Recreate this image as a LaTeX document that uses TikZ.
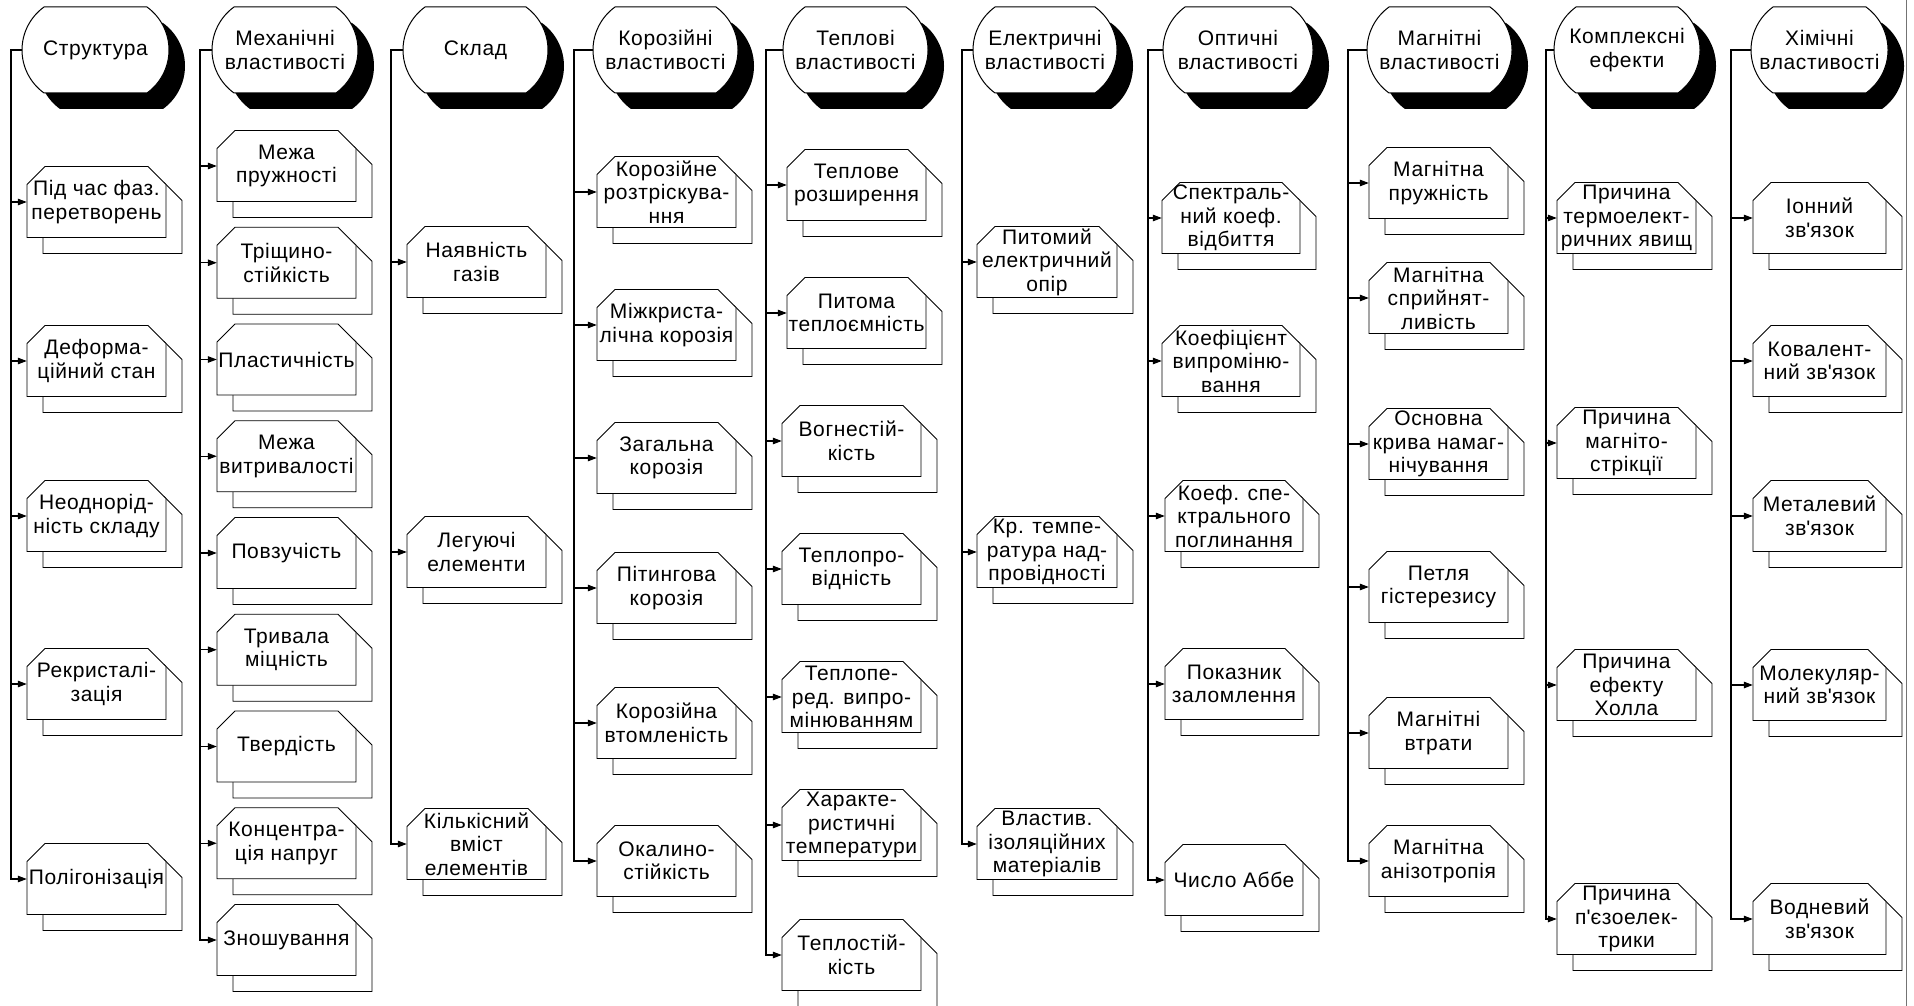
\documentclass[tikz,border=0pt]{standalone}
\usepackage{fontspec}
\setmainfont{Liberation Sans}[LetterSpace=3]
\usetikzlibrary{arrows.meta}

\tikzset{
  link/.style={line width=1.1pt, -{Triangle[length=9pt,width=6.5pt]}},
  hdrline/.style={line width=1pt, fill=white},
  docline/.style={line width=0.9pt, fill=white, line join=miter},
  lbl/.style={font=\fontsize{21}{23.5}\selectfont, align=center, inner sep=0pt},
}

% terminator outline with circular end caps: left, right, offset
\newcommand\termpath[3]{%
  ({#1+22+#3},{7+#3}) -- ({#2-22+#3},{7+#3})
  .. controls ({#2-8.2+#3},{17+#3}) and ({#2+#3},{33+#3}) .. ({#2+#3},{50+#3})
  .. controls ({#2+#3},{67+#3}) and ({#2-8.2+#3},{83+#3}) .. ({#2-22+#3},{93+#3})
  -- ({#1+22+#3},{93+#3})
  .. controls ({#1+8.2+#3},{83+#3}) and ({#1+#3},{67+#3}) .. ({#1+#3},{50+#3})
  .. controls ({#1+#3},{33+#3}) and ({#1+8.2+#3},{17+#3}) .. ({#1+22+#3},{7+#3}) -- cycle}

% chamfered card outline: left, right, vertical centre
\newcommand\docpath[3]{%
  ({#1},{#3+35.5}) -- ({#1},{#3-17.5}) -- ({#1+18},{#3-35.5})
  -- ({#2-18},{#3-35.5}) -- ({#2},{#3-17.5}) -- ({#2},{#3+35.5}) -- cycle}

% category header with black drop shadow
\newcommand\header[4]{%
  \fill[black] \termpath{#2}{#3}{16};
  \draw[hdrline] \termpath{#2}{#3}{0};
  \pgfmathsetmacro\hw{#3-#2}
  \node[lbl, minimum width=\hw pt, minimum height=86pt] (#1) at ({(#2+#3)/2},50) {#4};
}

% stacked card: name, left, width, vertical centre, text
\newcommand\docnode[5]{%
  \draw[docline] \docpath{#2+16}{#2+#3+16}{#4+16};
  \draw[docline] \docpath{#2}{#2+#3}{#4};
  \node[lbl, minimum width=#3pt, minimum height=71pt] (#1) at ({#2+#3/2},#4) {#5};
}

\newcommand\apos{\textquotesingle}

\begin{document}
\begin{tikzpicture}[x=1pt, y=-1pt]
\useasboundingbox (0,0) rectangle (1914,1006);
\fill[white] (0,0) rectangle (1914,1006);

% ---- Структура
\header{h1}{22}{169}{Структура}
\coordinate (t1) at (11,50);
\docnode{c1-1}{27}{139}{202}{Під час фаз.\\перетворень}
\docnode{c1-2}{27}{139}{361}{Деформа-\\ційний стан}
\docnode{c1-3}{27}{139}{516}{Неоднорід-\\ність складу}
\docnode{c1-4}{27}{139}{684}{Рекристалі-\\зація}
\docnode{c1-5}{27}{139}{879}{Полігонізація}
\foreach \i in {1,...,5} \draw[link] (h1.west) -- (t1) |- (c1-\i.west);

% ---- Механічні властивості
\header{h2}{212}{358}{Механічні\\властивості}
\coordinate (t2) at (200,50);
\docnode{c2-1}{217}{139}{166}{Межа\\пружності}
\docnode{c2-2}{217}{139}{262.75}{Тріщино-\\стійкість}
\docnode{c2-3}{217}{139}{359.5}{Пластичність}
\docnode{c2-4}{217}{139}{456.25}{Межа\\витривалості}
\docnode{c2-5}{217}{139}{553}{Повзучість}
\docnode{c2-6}{217}{139}{649.75}{Тривала\\міцність}
\docnode{c2-7}{217}{139}{746.5}{Твердість}
\docnode{c2-8}{217}{139}{843.25}{Концентра-\\ція напруг}
\docnode{c2-9}{217}{139}{940}{Зношування}
\foreach \i in {1,...,9} \draw[link] (h2.west) -- (t2) |- (c2-\i.west);

% ---- Склад
\header{h3}{403}{548}{Склад}
\coordinate (t3) at (391,50);
\docnode{c3-1}{407}{139}{262}{Наявність\\газів}
\docnode{c3-2}{407}{139}{552}{Легуючі\\елементи}
\docnode{c3-3}{407}{139}{844}{Кількісний\\вміст\\елементів}
\foreach \i in {1,...,3} \draw[link] (h3.west) -- (t3) |- (c3-\i.west);

% ---- Корозійні властивості
\header{h4}{593}{738}{Корозійні\\властивості}
\coordinate (t4) at (574,50);
\docnode{c4-1}{597}{139}{192}{Корозійне\\розтріскува-\\ння}
\docnode{c4-2}{597}{139}{325}{Міжкриста-\\лічна корозія}
\docnode{c4-3}{597}{139}{458}{Загальна\\корозія}
\docnode{c4-4}{597}{139}{588}{Пітингова\\корозія}
\docnode{c4-5}{597}{139}{723}{Корозійна\\втомленість}
\docnode{c4-6}{597}{139}{861}{Окалино-\\стійкість}
\foreach \i in {1,...,6} \draw[link] (h4.west) -- (t4) |- (c4-\i.west);

% ---- Теплові властивості
\header{h5}{783}{928}{Теплові\\властивості}
\coordinate (t5) at (766,50);
\docnode{c5-1}{787}{139}{185}{Теплове\\розширення}
\docnode{c5-2}{787}{139}{313}{Питома\\теплоємність}
\docnode{c5-3}{782}{139}{441}{Вогнестій-\\кість}
\docnode{c5-4}{782}{139}{569}{Теплопро-\\відність}
\docnode{c5-5}{782}{139}{697}{Теплопе-\\ред. випро-\\мінюванням}
\docnode{c5-6}{782}{139}{825}{Характе-\\ристичні\\температури}
\docnode{c5-7}{782}{139}{955}{Теплостій-\\кість}
\foreach \i in {1,...,7} \draw[link] (h5.west) -- (t5) |- (c5-\i.west);

% ---- Електричні властивості
\header{h6}{973}{1117}{Електричні\\властивості}
\coordinate (t6) at (962,50);
\docnode{c6-1}{977}{140}{262}{Питомий\\електричний\\опір}
\docnode{c6-2}{977}{140}{552}{Кр. темпе-\\ратура над-\\провідності}
\docnode{c6-3}{977}{140}{844}{Властив.\\ізоляційних\\матеріалів}
\foreach \i in {1,...,3} \draw[link] (h6.west) -- (t6) |- (c6-\i.west);

% ---- Оптичні властивості
\header{h7}{1163}{1313}{Оптичні\\властивості}
\coordinate (t7) at (1148,50);
\docnode{c7-1}{1162}{138}{218}{Спектраль-\\ний коеф.\\відбиття}
\docnode{c7-2}{1162}{138}{361}{Коефіцієнт\\випроміню-\\вання}
\docnode{c7-3}{1165}{138}{516}{Коеф. спе-\\ктрального\\поглинання}
\docnode{c7-4}{1165}{138}{684}{Показник\\заломлення}
\docnode{c7-5}{1165}{138}{880}{Число Аббе}
\foreach \i in {1,...,5} \draw[link] (h7.west) -- (t7) |- (c7-\i.west);

% ---- Магнітні властивості
\header{h8}{1367}{1512}{Магнітні\\властивості}
\coordinate (t8) at (1348,50);
\docnode{c8-1}{1369}{139}{183}{Магнітна\\пружність}
\docnode{c8-2}{1369}{139}{298}{Магнітна\\сприйнят-\\ливість}
\docnode{c8-3}{1369}{139}{444}{Основна\\крива намаг-\\нічування}
\docnode{c8-4}{1369}{139}{587}{Петля\\гістерезису}
\docnode{c8-5}{1369}{139}{733}{Магнітні\\втрати}
\docnode{c8-6}{1369}{139}{861}{Магнітна\\анізотропія}
\foreach \i in {1,...,6} \draw[link] (h8.west) -- (t8) |- (c8-\i.west);

% ---- Комплексні ефекти
\header{h9}{1554}{1700}{Комплексні\\ефекти}
\coordinate (t9) at (1546,50);
\docnode{c9-1}{1557}{139}{218}{Причина\\термоелект-\\ричних явищ}
\docnode{c9-2}{1557}{139}{443}{Причина\\магніто-\\стрікції}
\docnode{c9-3}{1557}{139}{685}{Причина\\ефекту\\Холла}
\docnode{c9-4}{1557}{139}{919}{Причина\\п\apos єзоелек-\\трики}
\foreach \i in {1,...,4} \draw[link] (h9.west) -- (t9) |- (c9-\i.west);

% ---- Хімічні властивості
\header{h10}{1751}{1888}{Хімічні\\властивості}
\coordinate (t10) at (1731,50);
\docnode{c10-1}{1753}{133}{218}{Іонний\\зв\apos язок}
\docnode{c10-2}{1753}{133}{361}{Ковалент-\\ний зв\apos язок}
\docnode{c10-3}{1753}{133}{516}{Металевий\\зв\apos язок}
\docnode{c10-4}{1753}{133}{685}{Молекуляр-\\ний зв\apos язок}
\docnode{c10-5}{1753}{133}{919}{Водневий\\зв\apos язок}
\foreach \i in {1,...,5} \draw[link] (h10.west) -- (t10) |- (c10-\i.west);

% page edge rule
\draw[black!55, line width=0.8pt] (1906,0) -- (1906,1006);
\end{tikzpicture}
\end{document}
